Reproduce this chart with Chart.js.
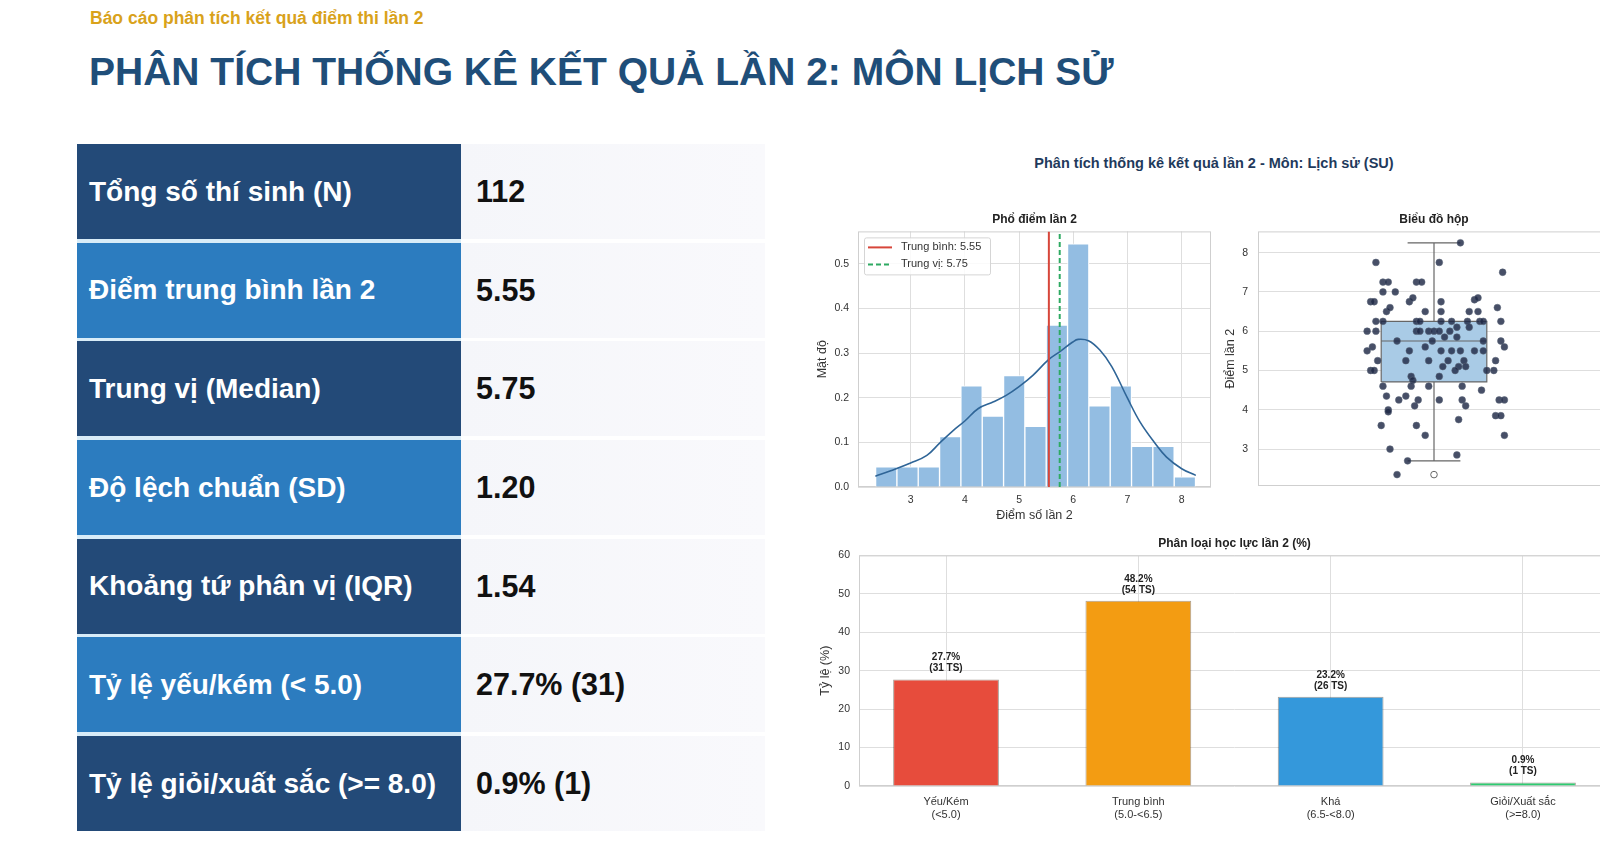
<!DOCTYPE html>
<html lang="vi">
<head>
<meta charset="utf-8">
<title>Phân tích thống kê kết quả lần 2: Môn Lịch sử</title>
<script src="https://cdn.jsdelivr.net/npm/chart.js@4.4.1/dist/chart.umd.min.js"></script>
<style>
html, body { margin: 0; padding: 0; }
body {
    width: 1600px; height: 863px; overflow: hidden; position: relative;
    background: #fff; font-family: "Liberation Sans", Arial, sans-serif;
}
.sub { position: absolute; left: 90px; top: 10px; font-size: 17.5px; font-weight: bold; color: #d9a21b; line-height: 1; white-space: nowrap; }
.title { position: absolute; left: 89px; top: 52px; font-size: 39px; font-weight: bold; color: #1f4e79; line-height: 1; white-space: nowrap; }
#stats { position: absolute; left: 77px; top: 144px; width: 688px; background: linear-gradient(90deg, #d8ecf8 0, #d8ecf8 384px, #fff 384px); }
.row { display: flex; height: 95px; margin-bottom: 3.7px; }
.row:last-child { margin-bottom: 0; }
.lbl { width: 372px; padding-left: 12px; display: flex; align-items: center; color: #fff; font-size: 28px; font-weight: bold; background: #234a78; }
.row.alt .lbl { background: #2c7cbf; }
.val { flex: 1; padding-left: 15px; display: flex; align-items: center; color: #111; font-size: 30.5px; font-weight: bold; background: linear-gradient(90deg, #f5f6fa, #f9f9fc); }
.suptitle { position: absolute; left: 914px; width: 600px; top: 154px; text-align: center; font-size: 14.5px; font-weight: bold; color: #1f3a5c; line-height: 18px; }
canvas { position: absolute; }
#hist { left: 790px; top: 204px; }
#box { left: 1200px; top: 204px; }
#bars { left: 790px; top: 530px; }
</style>
</head>
<body>
<div class="sub">Báo cáo phân tích kết quả điểm thi lần 2</div>
<div class="title">PHÂN TÍCH THỐNG KÊ KẾT QUẢ LẦN 2: MÔN LỊCH SỬ</div>
<div id="stats"></div>
<div class="suptitle">Phân tích thống kê kết quả lần 2 - Môn: Lịch sử (SU)</div>
<canvas id="hist" width="430" height="319"></canvas>
<canvas id="box" width="420" height="319"></canvas>
<canvas id="bars" width="830" height="296"></canvas>
<script>
// bảng thống kê
const statLabels = ["Tổng số thí sinh (N)", "Điểm trung bình lần 2", "Trung vị (Median)", "Độ lệch chuẩn (SD)",
    "Khoảng tứ phân vị (IQR)", "Tỷ lệ yếu/kém (< 5.0)", "Tỷ lệ giỏi/xuất sắc (>= 8.0)"];
const statValues = ["112", "5.55", "5.75", "1.20", "1.54", "27.7% (31)", "0.9% (1)"];

// phổ điểm (histogram, mật độ)
const binCenters = [2.551, 2.944, 3.337, 3.731, 4.124, 4.518, 4.911, 5.304, 5.698, 6.091, 6.484, 6.878, 7.271, 7.664, 8.058];
const binDensity = [0.045, 0.045, 0.045, 0.113, 0.227, 0.159, 0.250, 0.136, 0.363, 0.545, 0.182, 0.227, 0.091, 0.091, 0.023];
const kdeX = [2.35, 2.62, 3.0, 3.30, 3.54, 3.79, 4.0, 4.25, 4.53, 4.77, 5.0, 5.26, 5.54, 5.76, 5.99, 6.09, 6.28, 6.49, 6.71, 7.0, 7.23, 7.49, 7.72, 8.0, 8.26];
const kdeY = [0.024, 0.036, 0.054, 0.071, 0.099, 0.127, 0.148, 0.176, 0.191, 0.206, 0.225, 0.251, 0.285, 0.304, 0.325, 0.331, 0.328, 0.307, 0.270, 0.199, 0.146, 0.101, 0.067, 0.041, 0.026];
const meanScore = 5.55;
const medianScore = 5.75;
const histXTicks = [3, 4, 5, 6, 7, 8];
const histYTicks = [0, 0.1, 0.2, 0.3, 0.4, 0.5];

// biểu đồ hộp: [râu dưới, Q1, trung vị, Q3, râu trên]
const boxStats = [2.70, 4.71, 5.75, 6.25, 8.25];
const boxFliers = [2.35];
const stripY = [8.25, 7.75, 7.75, 7.5, 7.25, 7.25, 7.25, 7.25, 7.0, 7.0,
    6.75, 6.75, 6.75, 6.85, 6.75, 6.8, 6.85, 6.5, 6.6, 6.5, 6.5, 6.5, 6.5, 6.6,
    6.25, 6.25, 6.25, 6.25, 6.25, 6.25, 6.25, 6.25, 6.25, 6.25, 6.1, 6.1,
    6.0, 6.0, 6.0, 6.0, 6.0, 6.0, 6.0, 6.0, 5.75, 5.75, 5.85, 5.85, 5.75, 5.75,
    5.6, 5.6, 5.6, 5.5, 5.5, 5.5, 5.5, 5.5, 5.5, 5.5,
    5.25, 5.25, 5.25, 5.25, 5.25, 5.25, 5.1, 5.1, 5.1, 5.0, 5.0, 5.0, 5.0, 5.0,
    4.85, 4.75, 4.85, 4.6, 4.6, 4.6, 4.6, 4.5, 4.35, 4.35,
    4.25, 4.25, 4.25, 4.25, 4.25, 4.25, 4.1, 4.1, 4.0, 3.95, 3.85, 3.85, 3.75,
    3.6, 3.6, 3.35, 3.35, 3.0, 2.85, 2.7, 2.35];
const stripX = [0.15, -0.33, 0.03, 0.39, -0.29, -0.26, -0.10, -0.07, -0.29, -0.22,
    -0.36, -0.34, -0.14, -0.12, 0.04, 0.23, 0.25, -0.27, -0.25, -0.05, 0.04, 0.20, 0.25, 0.36,
    -0.33, -0.29, -0.10, -0.08, 0.04, 0.10, 0.19, 0.26, 0.28, 0.38, 0.20, 0.13,
    -0.38, -0.33, -0.10, -0.08, -0.03, 0.00, 0.03, 0.09, -0.21, -0.01, 0.06, 0.13, 0.28, 0.38,
    -0.35, 0.40, -0.05, -0.38, -0.14, 0.04, 0.10, 0.15, 0.23, 0.28,
    -0.32, -0.16, -0.03, 0.08, 0.17, 0.35, 0.05, 0.18, 0.14, -0.36, -0.34, 0.12, 0.30, 0.34,
    -0.13, -0.12, 0.03, -0.29, -0.13, -0.03, 0.16, 0.27, -0.27, -0.16,
    -0.20, -0.09, 0.03, 0.16, 0.37, 0.40, -0.11, 0.18, -0.26, -0.26, 0.35, 0.38, 0.14,
    -0.30, -0.10, -0.05, 0.40, -0.25, 0.13, -0.15, -0.21];
const boxYTicks = [3, 4, 5, 6, 7, 8];

// phân loại học lực
const levelNames = [["Yếu/Kém", "(<5.0)"], ["Trung bình", "(5.0-<6.5)"], ["Khá", "(6.5-<8.0)"], ["Giỏi/Xuất sắc", "(>=8.0)"]];
const levelPercent = [27.7, 48.2, 23.2, 0.9];
const levelCount = [31, 54, 26, 1];
const levelColors = ["#e74c3c", "#f39c12", "#3498db", "#2ecc71"];
const barYTicks = [0, 10, 20, 30, 40, 50, 60];

// --- bảng ---
const stats = document.getElementById("stats");
statLabels.forEach(function (label, i) {
    const row = document.createElement("div");
    row.className = i % 2 ? "row alt" : "row";
    row.innerHTML = '<div class="lbl"></div><div class="val"></div>';
    row.children[0].textContent = label;
    row.children[1].textContent = statValues[i];
    stats.appendChild(row);
});

Chart.defaults.font.family = '"Liberation Sans", Arial, sans-serif';
Chart.defaults.color = "#333";
Chart.defaults.animation = false;
Chart.defaults.plugins.tooltip.enabled = false;

const gridColor = "#dedede";
const titleFont = { size: 12, weight: "bold" };
const axisTitleFont = { size: 12.5 };

// khung viền vùng vẽ
const frame = {
    id: "frame",
    beforeDatasetsDraw(chart) {
        const a = chart.chartArea, ctx = chart.ctx;
        ctx.save();
        ctx.strokeStyle = "#cfcfcf";
        ctx.lineWidth = 1;
        ctx.strokeRect(a.left + 0.5, a.top + 0.5, a.right - a.left - 1, a.bottom - a.top - 1);
        ctx.restore();
    }
};

function fixedWidth(w) { return function (s) { s.width = w; }; }
function fixedHeight(h) { return function (s) { s.height = h; }; }
function useTicks(list) { return function (s) { s.ticks = list.map(v => ({ value: v })); }; }

// --- histogram ---
const histLegend = {
    id: "histLegend",
    afterDatasetsDraw(chart) {
        const a = chart.chartArea, ctx = chart.ctx;
        const x0 = a.left + 6, y0 = a.top + 6;
        ctx.save();
        ctx.fillStyle = "rgba(255,255,255,0.85)";
        ctx.strokeStyle = "#d5d5d5";
        ctx.lineWidth = 1;
        ctx.beginPath();
        ctx.roundRect(x0 + 0.5, y0 + 0.5, 126, 37, 2);
        ctx.fill();
        ctx.stroke();
        ctx.font = '11px "Liberation Sans", Arial, sans-serif';
        ctx.textBaseline = "middle";
        [chart.data.datasets[2], chart.data.datasets[3]].forEach(function (ds, i) {
            const y = y0 + 10 + i * 17;
            ctx.strokeStyle = ds.borderColor;
            ctx.lineWidth = 2;
            ctx.setLineDash(ds.borderDash || []);
            ctx.beginPath();
            ctx.moveTo(x0 + 4, y);
            ctx.lineTo(x0 + 28, y);
            ctx.stroke();
            ctx.setLineDash([]);
            ctx.fillStyle = "#333";
            ctx.fillText(ds.label, x0 + 37, y);
        });
        ctx.restore();
    }
};

new Chart(document.getElementById("hist"), {
    type: "bar",
    data: {
        datasets: [
            {
                type: "bar",
                label: "Mật độ",
                data: binCenters.map((x, i) => ({ x: x, y: binDensity[i] })),
                backgroundColor: "#93bde2",
                borderColor: "#ffffff",
                borderWidth: 1,
                barPercentage: 1,
                categoryPercentage: 1,
                order: 4
            },
            {
                type: "line",
                label: "KDE",
                data: kdeX.map((x, i) => ({ x: x, y: kdeY[i] })),
                borderColor: "#2f6597",
                borderWidth: 1.6,
                pointRadius: 0,
                tension: 0.4,
                fill: false,
                order: 3
            },
            {
                type: "line",
                label: "Trung bình: " + meanScore.toFixed(2),
                data: [{ x: meanScore, y: 0 }, { x: meanScore, y: 0.573 }],
                borderColor: "#d7463a",
                borderWidth: 2,
                pointRadius: 0,
                order: 2
            },
            {
                type: "line",
                label: "Trung vị: " + medianScore.toFixed(2),
                data: [{ x: medianScore, y: 0 }, { x: medianScore, y: 0.573 }],
                borderColor: "#2eaa62",
                borderDash: [5, 3],
                borderWidth: 2,
                pointRadius: 0,
                order: 1
            }
        ]
    },
    options: {
        responsive: false,
        layout: { padding: { left: 25, right: 9, top: 0, bottom: 0 } },
        plugins: {
            legend: { display: false },
            title: { display: true, text: "Phổ điểm lần 2", font: titleFont, color: "#222", padding: { top: 8, bottom: 5 }, fullSize: false }
        },
        scales: {
            x: {
                type: "linear", min: 2.03, max: 8.54, offset: false,
                afterBuildTicks: useTicks(histXTicks),
                afterFit: fixedHeight(36),
                grid: { color: gridColor, drawTicks: false, offset: false },
                border: { display: false },
                ticks: { padding: 7, font: { size: 10.5 } },
                title: { display: true, text: "Điểm số lần 2", font: axisTitleFont, padding: 0 }
            },
            y: {
                type: "linear", min: 0, max: 0.573,
                afterBuildTicks: useTicks(histYTicks),
                afterFit: fixedWidth(43),
                grid: { color: gridColor, drawTicks: false },
                border: { display: false },
                ticks: { padding: 9, font: { size: 10.5 }, callback: v => v.toFixed(1) },
                title: { display: true, text: "Mật độ", font: axisTitleFont, padding: 0 }
            }
        }
    },
    plugins: [frame, histLegend]
});

// --- biểu đồ hộp ---
const BOX_HALF = 0.3, CAP_HALF = 0.15;
const [wLo, q1, q2, q3, wHi] = boxStats;
new Chart(document.getElementById("box"), {
    type: "scatter",
    data: {
        datasets: [
            {
                type: "line", label: "Q1",
                data: [{ x: -BOX_HALF, y: q1 }, { x: BOX_HALF, y: q1 }],
                borderWidth: 0, pointRadius: 0, borderColor: "rgba(0,0,0,0)", order: 6
            },
            {
                type: "line", label: "Q3",
                data: [{ x: -BOX_HALF, y: q3 }, { x: BOX_HALF, y: q3 }],
                borderWidth: 0, pointRadius: 0, borderColor: "rgba(0,0,0,0)",
                fill: "-1", backgroundColor: "#a9cbe6", order: 5
            },
            {
                type: "line", label: "khung",
                data: [{ x: -BOX_HALF, y: q1 }, { x: BOX_HALF, y: q1 }, { x: BOX_HALF, y: q3 }, { x: -BOX_HALF, y: q3 }, { x: -BOX_HALF, y: q1 }],
                borderColor: "#666", borderWidth: 1.2, pointRadius: 0, fill: false, order: 4
            },
            {
                type: "line", label: "trung vị",
                data: [{ x: -BOX_HALF, y: q2 }, { x: BOX_HALF, y: q2 }],
                borderColor: "#666", borderWidth: 1.2, pointRadius: 0, order: 4
            },
            {
                type: "line", label: "râu",
                data: [
                    { x: 0, y: q3 }, { x: 0, y: wHi }, { x: 0, y: null },
                    { x: -CAP_HALF, y: wHi }, { x: CAP_HALF, y: wHi }, { x: 0, y: null },
                    { x: 0, y: q1 }, { x: 0, y: wLo }, { x: 0, y: null },
                    { x: -CAP_HALF, y: wLo }, { x: CAP_HALF, y: wLo }
                ],
                borderColor: "#666", borderWidth: 1.2, pointRadius: 0, spanGaps: false, order: 4
            },
            {
                label: "ngoại lai",
                data: boxFliers.map(v => ({ x: 0, y: v })),
                pointRadius: 3.3, backgroundColor: "#fff", borderColor: "#666", borderWidth: 1, order: 3
            },
            {
                label: "điểm",
                data: stripY.map((y, i) => ({ x: stripX[i], y: y })),
                pointRadius: 3.4,
                backgroundColor: "rgba(30,40,70,0.82)",
                borderColor: "rgba(90,100,120,0.9)",
                borderWidth: 0.6,
                order: 1
            }
        ]
    },
    options: {
        responsive: false,
        layout: { padding: { left: 23, right: 10, top: 0, bottom: 37 } },
        plugins: {
            legend: { display: false },
            title: { display: true, text: "Biểu đồ hộp", font: titleFont, color: "#222", padding: { top: 8, bottom: 5 }, fullSize: false }
        },
        scales: {
            x: { type: "linear", min: -1, max: 1, display: false },
            y: {
                type: "linear", min: 2.06, max: 8.54,
                afterBuildTicks: useTicks(boxYTicks),
                afterFit: fixedWidth(35),
                grid: { color: gridColor, drawTicks: false },
                border: { display: false },
                ticks: { padding: 10, font: { size: 10.5 } },
                title: { display: true, text: "Điểm lần 2", font: axisTitleFont, padding: 0 }
            }
        }
    },
    plugins: [frame]
});

// --- phân loại học lực ---
const barLabels = {
    id: "barLabels",
    afterDatasetsDraw(chart) {
        const ctx = chart.ctx;
        const meta = chart.getDatasetMeta(0);
        ctx.save();
        ctx.font = 'bold 10px "Liberation Sans", Arial, sans-serif';
        ctx.fillStyle = "#222";
        ctx.textAlign = "center";
        ctx.textBaseline = "middle";
        meta.data.forEach(function (bar, i) {
            ctx.fillText(levelPercent[i].toFixed(1) + "%", bar.x, bar.y - 22);
            ctx.fillText("(" + levelCount[i] + " TS)", bar.x, bar.y - 11);
        });
        ctx.restore();
    }
};

new Chart(document.getElementById("bars"), {
    type: "bar",
    data: {
        datasets: [{
            label: "Tỷ lệ (%)",
            data: levelPercent.map((v, i) => ({ x: i, y: v })),
            backgroundColor: levelColors,
            borderColor: "rgba(60,40,20,0.45)",
            borderWidth: 1,
            barPercentage: 0.55,
            categoryPercentage: 1
        }]
    },
    options: {
        responsive: false,
        layout: { padding: { left: 28, right: 10, top: 0, bottom: 0 } },
        plugins: {
            legend: { display: false },
            title: { display: true, text: "Phân loại học lực lần 2 (%)", font: titleFont, color: "#222", padding: { top: 6, bottom: 5 }, fullSize: false }
        },
        scales: {
            x: {
                type: "linear", min: -0.4525, max: 3.4525, offset: false,
                afterBuildTicks: useTicks([0, 1, 2, 3]),
                afterFit: fixedHeight(40),
                grid: { color: gridColor, drawTicks: false, offset: false },
                border: { display: false },
                ticks: { padding: 9, font: { size: 11 }, callback: v => levelNames[v] }
            },
            y: {
                type: "linear", min: 0, max: 60,
                afterBuildTicks: useTicks(barYTicks),
                afterFit: fixedWidth(41),
                grid: { color: gridColor, drawTicks: false },
                border: { display: false },
                ticks: { padding: 9, font: { size: 10.5 } },
                title: { display: true, text: "Tỷ lệ (%)", font: axisTitleFont, padding: 0 }
            }
        }
    },
    plugins: [frame, barLabels]
});
</script>
</body>
</html>
